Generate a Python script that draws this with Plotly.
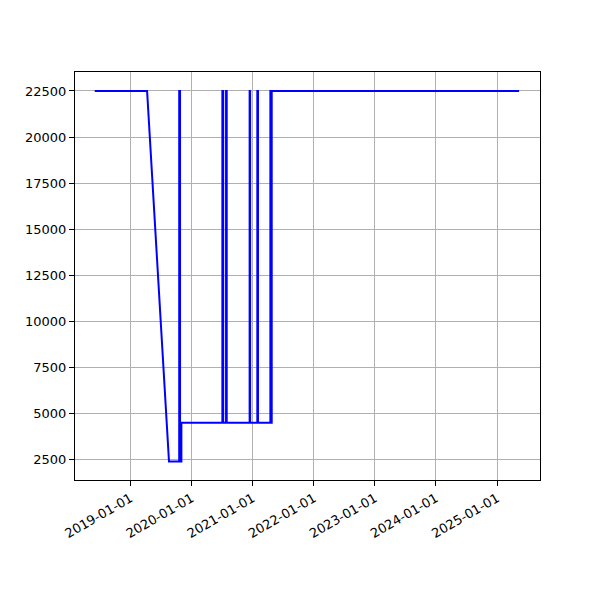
import plotly.graph_objects as go

dates = [
    "2018-06-01", "2019-04-10", "2019-08-19",
    "2019-10-19", "2019-10-19", "2019-10-24", "2019-10-24",
    "2019-11-01", "2019-11-01",
    "2020-07-03", "2020-07-03", "2020-07-08", "2020-07-08",
    "2020-07-25", "2020-07-25", "2020-07-29", "2020-07-29",
    "2020-12-13", "2020-12-13", "2020-12-16", "2020-12-16",
    "2021-01-28", "2021-01-28", "2021-02-01", "2021-02-01",
    "2021-04-16", "2021-04-16", "2021-04-20", "2021-04-20",
    "2021-04-24", "2021-04-24",
    "2025-05-12",
]
values = [
    22500, 22500, 2400,
    2400, 22500, 22500, 2400,
    2400, 4500,
    4500, 22500, 22500, 4500,
    4500, 22500, 22500, 4500,
    4500, 22500, 22500, 4500,
    4500, 22500, 22500, 4500,
    4500, 22500, 22500, 4500,
    4500, 22500,
    22500,
]
y_ticks = [2500, 5000, 7500, 10000, 12500, 15000, 17500, 20000, 22500]
x_ticks = ["2019-01-01", "2020-01-01", "2021-01-01", "2022-01-01",
           "2023-01-01", "2024-01-01", "2025-01-01"]

fig = go.Figure(go.Scatter(x=dates, y=values, mode="lines",
                           line=dict(color="blue", width=2)))

axis_common = dict(showgrid=True, gridcolor="#b0b0b0", gridwidth=1,
                   showline=True, linecolor="black", linewidth=1, mirror=True,
                   ticks="outside", ticklen=5, tickcolor="black",
                   zeroline=False, automargin=False,
                   tickfont=dict(family="DejaVu Sans", size=13, color="black"))

fig.update_layout(
    width=600, height=600,
    paper_bgcolor="white", plot_bgcolor="white",
    margin=dict(l=67, r=68, t=64, b=128),
    showlegend=False,
    xaxis=dict(type="date", range=["2018-02-03", "2025-09-14"],
               tickvals=x_ticks, ticktext=x_ticks, tickangle=-30, **axis_common),
    yaxis=dict(range=[1395, 23530], tickvals=y_ticks,
               ticktext=[str(v) for v in y_ticks], **axis_common),
)

fig.write_html("out.html")
